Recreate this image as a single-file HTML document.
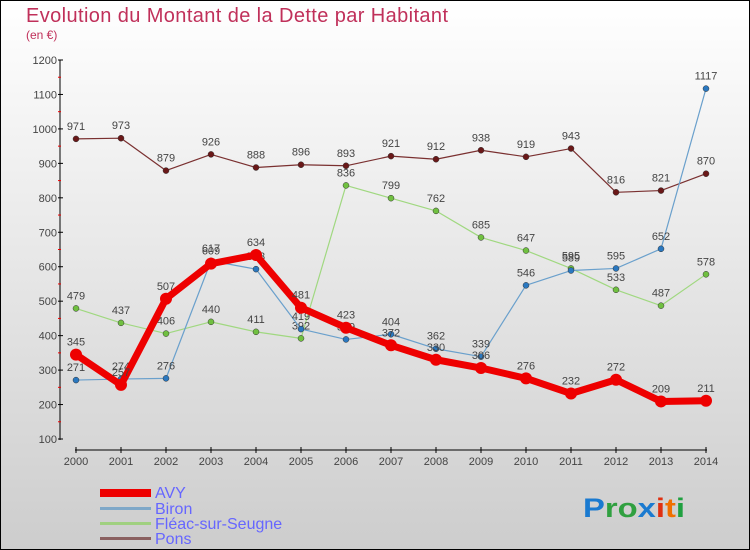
<!DOCTYPE html>
<html><head><meta charset="utf-8"><style>
body{margin:0}
svg{display:block;font-family:"Liberation Sans",sans-serif}
</style></head><body>
<svg width="750" height="550" xmlns="http://www.w3.org/2000/svg">
<defs><linearGradient id="bg" x1="0" y1="0" x2="0" y2="1"><stop offset="0" stop-color="#ffffff"/><stop offset="1" stop-color="#cdcdcd"/></linearGradient></defs>
<rect x="0.5" y="0.5" width="749" height="549" fill="url(#bg)" stroke="#000"/>
<text x="26" y="22" font-size="20" fill="#c0305a" textLength="422">Evolution du Montant de la Dette par Habitant</text>
<text x="26" y="39" font-size="12" fill="#c0305a">(en €)</text>
<g id="g"></g>
<g font-size="16">
<rect x="100" y="489" width="51" height="8" fill="#e00"/>
<rect x="100" y="507" width="51" height="3" fill="#7fa8c8"/>
<rect x="100" y="522" width="51" height="3" fill="#a0d080"/>
<rect x="100" y="537" width="51" height="3" fill="#8a6060"/>
<text x="155" y="498" fill="#6666ff">AVY</text>
<text x="155" y="514" fill="#6666ff">Biron</text>
<text x="155" y="529" fill="#6666ff">Fléac-sur-Seugne</text>
<text x="155" y="544" fill="#6666ff">Pons</text>
</g>
<text x="583" y="517" font-size="27" font-weight="bold" textLength="102" lengthAdjust="spacingAndGlyphs"><tspan fill="#1a7ad0">P</tspan><tspan fill="#30a040">ro</tspan><tspan fill="#1a7ad0">x</tspan><tspan fill="#e03010">i</tspan><tspan fill="#f07000">t</tspan><tspan fill="#20a040">i</tspan></text>
</svg>
<script>
const ns="http://www.w3.org/2000/svg";
const g=document.getElementById('g');
function el(t,a,p){const e=document.createElementNS(ns,t);for(const k in a)e.setAttribute(k,a[k]);(p||g).appendChild(e);return e;}
const X=i=>76+i*45, Y=v=>439-(v-100)*379/1100;
el('line',{x1:60,y1:60,x2:60,y2:440,stroke:'#000'});
for(let v=100;v<=1200;v+=100){el('line',{x1:58,y1:Y(v),x2:63,y2:Y(v),stroke:'#000'});
el('text',{x:57,y:Y(v)+4,'text-anchor':'end','font-size':11,fill:'#444'}).textContent=v;
if(v<1200)el('line',{x1:58,y1:Y(v+50),x2:61,y2:Y(v+50),stroke:'#e00'});}
el('line',{x1:75,y1:450,x2:707,y2:450,stroke:'#000'});
for(let i=0;i<15;i++){el('line',{x1:X(i),y1:447,x2:X(i),y2:453,stroke:'#000'});
el('text',{x:X(i),y:465,'text-anchor':'middle','font-size':11,fill:'#444'}).textContent=2000+i;}
const S=[
[[971,973,879,926,888,896,893,921,912,938,919,943,816,821,870],'#7a3030','#6a1818',1.2,3],
[[479,437,406,440,411,392,836,799,762,685,647,595,533,487,578],'#a0d880','#70c040',1.2,3],
[[271,274,276,617,593,419,389,404,362,339,546,589,595,652,1117],'#6aa0cc','#2a78c0',1.2,3],
[[345,257,507,609,634,481,423,372,330,306,276,232,272,209,211],'#ee0000','#ee0000',7,6]];
for(const [d,c,pc,w,r] of S){
el('polyline',{points:d.map((v,i)=>X(i)+','+Y(v)).join(' '),fill:'none',stroke:c,'stroke-width':w,'stroke-linejoin':'round'});
d.forEach((v,i)=>{el('circle',{cx:X(i),cy:Y(v),r:r,fill:pc,stroke:r>4?'none':'#333','stroke-width':0.5});
el('text',{x:X(i),y:Y(v)-9,'text-anchor':'middle','font-size':11,fill:'#444'}).textContent=v;});}
</script>
</body></html>
